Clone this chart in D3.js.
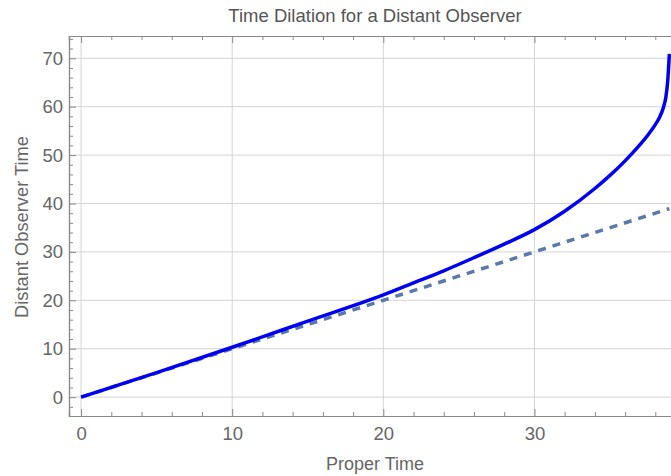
<!DOCTYPE html>
<html>
<head>
<meta charset="utf-8">
<script src="https://cdn.jsdelivr.net/npm/d3@7"></script>
<style>
  html, body { margin: 0; padding: 0; background: #fff; }
  svg { display: block; }
  text { font-family: "Liberation Sans", Arial, sans-serif; }
</style>
</head>
<body>
<svg id="chart" width="671" height="476"></svg>
<script>
// ---- data ----
const title = "Time Dilation for a Distant Observer";
const xLabel = "Proper Time";
const yLabel = "Distant Observer Time";

const properTime   = [0, 5, 10, 15, 20, 22, 24, 26, 28, 30, 32, 34, 35, 36, 37, 37.5, 38, 38.25, 38.55, 38.7, 38.82, 38.93];
const observerTime = [0, 5.05, 10.3, 15.7, 21.1, 23.6, 26.1, 28.8, 31.6, 34.6, 38.4, 43.1, 45.8, 48.8, 52.2, 54.1, 56.3, 57.6, 60.0, 62.0, 65.3, 70.9];

const refX = [0, 38.93];        // reference line: observer time = proper time
const refY = [0, 38.93];

const xMajorTicks = [0, 10, 20, 30];
const yMajorTicks = [0, 10, 20, 30, 40, 50, 60, 70];
const minorStep = 2;

const xDomain = [-0.8, 39.7];
const yDomain = [-3.9, 74.6];

// ---- layout ----
const svg = d3.select("#chart");
const mLeft = 69, mRight = 681, mTop = 36, mBottom = 416;

const x = d3.scaleLinear().domain(xDomain).range([mLeft, mRight]);
const y = d3.scaleLinear().domain(yDomain).range([mBottom, mTop]);

const minor = (dom) => d3.range(Math.ceil(dom[0] / minorStep) * minorStep, dom[1], minorStep);
const xMinor = minor(xDomain).filter(v => !xMajorTicks.includes(v));
const yMinor = minor(yDomain).filter(v => !yMajorTicks.includes(v));

const gridColor = "#d4d4d4";
const frameColor = "#8a8a8a";
const textColor = "#666";

// grid
svg.append("g").selectAll("line").data(xMajorTicks).join("line")
  .attr("x1", d => x(d)).attr("x2", d => x(d))
  .attr("y1", mTop).attr("y2", mBottom)
  .attr("stroke", gridColor).attr("stroke-width", 1);
svg.append("g").selectAll("line").data(yMajorTicks).join("line")
  .attr("x1", mLeft).attr("x2", mRight)
  .attr("y1", d => y(d)).attr("y2", d => y(d))
  .attr("stroke", gridColor).attr("stroke-width", 1);

// axes (ticks inward on the frame)
const majorLen = 7, minorLen = 4;
function frameAxis(axisFn, scale, majors, minors, transform, labels) {
  const gMaj = svg.append("g").attr("transform", transform)
    .call(axisFn(scale).tickValues(majors).tickSize(-majorLen).tickPadding(majorLen + 12)
      .tickFormat(labels ? d3.format("d") : () => ""));
  const gMin = svg.append("g").attr("transform", transform)
    .call(axisFn(scale).tickValues(minors).tickSize(-minorLen).tickFormat(() => ""));
  [gMaj, gMin].forEach(g => {
    g.select(".domain").attr("stroke", frameColor).attr("stroke-width", 1.2);
    g.selectAll(".tick line").attr("stroke", frameColor).attr("stroke-width", 1);
    g.selectAll("text").attr("fill", textColor).style("font-size", "18.5px")
      .style("font-family", '"Liberation Sans", Arial, sans-serif');
  });
  return gMaj;
}
const gx = frameAxis(d3.axisBottom, x, xMajorTicks, xMinor, `translate(0,${mBottom})`, true);
gx.selectAll("text").attr("dy", "0").attr("y", 23.5);
frameAxis(d3.axisTop, x, xMajorTicks, xMinor, `translate(0,${mTop})`, false);
const gy = frameAxis(d3.axisLeft, y, yMajorTicks, yMinor, `translate(${mLeft},0)`, true);
gy.selectAll("text").attr("x", -6);

// reference dashed line
const line = d3.line().x(d => x(d[0])).y(d => y(d[1]));
svg.append("path")
  .datum(refX.map((v, i) => [v, refY[i]]))
  .attr("d", line)
  .attr("fill", "none")
  .attr("stroke", "#5b78ad")
  .attr("stroke-width", 3.5)
  .attr("stroke-dasharray", "8,7");

// main curve
const curveLine = d3.line().x(d => x(d[0])).y(d => y(d[1])).curve(d3.curveMonotoneX);
svg.append("path")
  .datum(properTime.map((v, i) => [v, observerTime[i]]))
  .attr("d", curveLine)
  .attr("fill", "none")
  .attr("stroke", "#0000f0")
  .attr("stroke-width", 3.5)
  .attr("stroke-linejoin", "round")
  .attr("stroke-linecap", "butt");

// titles
svg.append("text")
  .attr("x", 375).attr("y", 22)
  .attr("text-anchor", "middle")
  .attr("fill", "#555")
  .style("font-size", "18.5px")
  .text(title);

svg.append("text")
  .attr("x", 375).attr("y", 470)
  .attr("text-anchor", "middle")
  .attr("fill", textColor)
  .style("font-size", "18px")
  .text(xLabel);

svg.append("text")
  .attr("transform", `translate(28,227) rotate(-90)`)
  .attr("text-anchor", "middle")
  .attr("fill", textColor)
  .style("font-size", "18.3px")
  .text(yLabel);
</script>
</body>
</html>
